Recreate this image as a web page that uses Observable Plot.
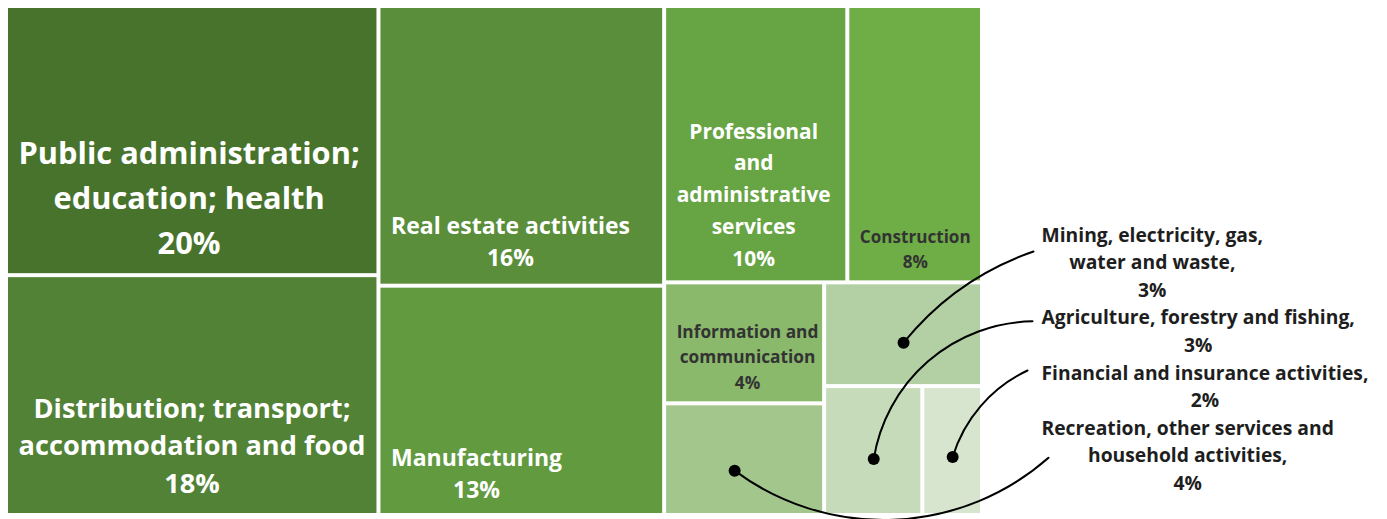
<!DOCTYPE html>
<html>
<head>
<meta charset="utf-8">
<script src="https://cdn.jsdelivr.net/npm/d3@7"></script>
<script src="https://cdn.jsdelivr.net/npm/@observablehq/plot@0.6"></script>
<style>
  html, body { margin: 0; padding: 0; background: #ffffff; }
  #chart svg { display: block; }
</style>
</head>
<body>
<div id="chart"></div>
<script>
// ---------------- DATA ----------------
const sectors = [
  "Public administration; education; health",
  "Distribution; transport; accommodation and food",
  "Real estate activities",
  "Manufacturing",
  "Professional and administrative services",
  "Construction",
  "Information and communication",
  "Recreation, other services and household activities",
  "Mining, electricity, gas, water and waste",
  "Agriculture, forestry and fishing",
  "Financial and insurance activities"
];
// share of total (%), read from the tile areas
const shares = [20.2, 18.0, 16.1, 13.2, 10.2, 7.5, 3.9, 3.6, 3.3, 2.55, 1.55];
const percentLabels = ["20%", "18%", "16%", "13%", "10%", "8%", "4%", "4%", "3%", "3%", "2%"];
// labels drawn inside tiles (wrapped as in the original)
const tileLabelSectors = sectors.slice(0, 7);
const tileLabelText = [
  "Public administration;\neducation; health",
  "Distribution; transport;\naccommodation and food",
  "Real estate activities",
  "Manufacturing",
  "Professional\nand\nadministrative\nservices",
  "Construction",
  "Information and\ncommunication"
];
// labels drawn outside with leader lines
const calloutSectors = [sectors[8], sectors[9], sectors[10], sectors[7]];
const calloutText = [
  "Mining, electricity, gas,\nwater and waste,",
  "Agriculture, forestry and fishing,",
  "Financial and insurance activities,",
  "Recreation, other services and\nhousehold activities,"
];

// ---------------- STYLE / LAYOUT ----------------
const W = 1387, H = 519;
const TM_W = 972, TM_H = 505;          // treemap extent (scale units, 1 unit = 1 px)
const palette = ["#48732c", "#528235", "#5a8e3a", "#619a3f", "#67a443", "#6fad47",
                 "#8ab96c", "#a2c68b", "#b3cfa4", "#c5dbb9", "#d7e5cf"];
const FONT = "'Open Sans'";
const tileStyle = {
  [sectors[0]]: {fs: 30.8, lh: 45, fill: "#ffffff", bottom: 20},
  [sectors[1]]: {fs: 27.2, lh: 37.5, fill: "#ffffff", bottom: 21},
  [sectors[2]]: {fs: 23, lh: 32, fill: "#ffffff", bottom: 18},
  [sectors[3]]: {fs: 23, lh: 32, fill: "#ffffff", bottom: 16},
  [sectors[4]]: {fs: 20.9, lh: 31.8, fill: "#ffffff", bottom: 15},
  [sectors[5]]: {fs: 17.1, lh: 25, fill: "#333333", bottom: 13},
  [sectors[6]]: {fs: 17.3, lh: 25.5, fill: "#333333", bottom: 13}
};
const TILE_PAD = 10;
const CALLOUT = {left: TM_W + 61, firstBaseline: 233, step: 27.6, fs: 19.3, fill: "#1e1e1e"};
const leaderEnd = [[-8, 10], [-9, -3], [-14, -9], [7, 23]];
const leaderBend = [16, 40, 24, -39];
const dotShift = [[0, 8], [0, 8], [0, 6], [-10, 11]];

// ---------------- LAYOUT ----------------
const shareOf = new Map(sectors.map((s, i) => [s, shares[i]]));
const pctOf = new Map(sectors.map((s, i) => [s, percentLabels[i]]));

const root = d3.hierarchy({children: sectors.map(s => ({name: s, value: shareOf.get(s)}))})
  .sum(d => d.value || 0)
  .sort((a, b) => b.value - a.value);
d3.treemap().tile(d3.treemapSquarify.ratio(1.2)).size([TM_W, TM_H]).paddingInner(4)(root);
const cells = root.leaves().map(d => ({
  name: d.data.name, value: d.value,
  x0: d.x0, x1: d.x1, y0: d.y0, y1: d.y1,
  cx: (d.x0 + d.x1) / 2, cy: (d.y0 + d.y1) / 2
}));
const cellOf = new Map(cells.map(c => [c.name, c]));

const ctx = document.createElement("canvas").getContext("2d");
function blockWidth(lines, fs) {
  ctx.font = `bold ${fs}px ${FONT}`;
  return d3.max(lines, l => ctx.measureText(l).width);
}

// tile labels
const tileMarks = tileLabelSectors.map((s, i) => {
  const c = cellOf.get(s), st = tileStyle[s];
  const text = tileLabelText[i] + "\n" + pctOf.get(s);
  const w = blockWidth(text.split("\n"), st.fs);
  const datum = {x: c.x0 + TILE_PAD + w / 2, y: c.y1, text};
  return Plot.text([datum], {
    x: "x", y: "y", text: "text",
    fontSize: st.fs, lineHeight: st.lh / st.fs, lineAnchor: "bottom",
    dy: -st.bottom, textAnchor: "middle", fill: st.fill, fontWeight: "bold"
  });
});

// callouts
let lineCursor = 0;
const callouts = calloutSectors.map((s, i) => {
  const c = cellOf.get(s);
  const text = calloutText[i] + "\n" + pctOf.get(s);
  const lines = text.split("\n");
  const first = CALLOUT.firstBaseline + lineCursor * CALLOUT.step;
  lineCursor += lines.length;
  const w = blockWidth(lines, CALLOUT.fs);
  return {
    name: s, text,
    tx: CALLOUT.left + w / 2,
    ty: first + (lines.length - 1) * CALLOUT.step,
    dotX: c.cx + dotShift[i][0], dotY: c.cy + dotShift[i][1],
    endX: CALLOUT.left + leaderEnd[i][0], endY: first + leaderEnd[i][1],
    bend: leaderBend[i]
  };
});

const calloutMarks = [
  ...callouts.map(d => Plot.arrow([d], {
    x1: "dotX", y1: "dotY", x2: "endX", y2: "endY",
    bend: d.bend, headLength: 0, stroke: "#000000", strokeWidth: 2
  })),
  Plot.dot(callouts, {x: "dotX", y: "dotY", r: 6, fill: "#000000", stroke: null}),
  Plot.text(callouts, {
    x: "tx", y: "ty", text: "text", fontSize: CALLOUT.fs,
    lineHeight: CALLOUT.step / CALLOUT.fs, lineAnchor: "bottom",
    textAnchor: "middle", fill: CALLOUT.fill, fontWeight: "bold"
  })
];

const chart = Plot.plot({
  width: W, height: H,
  marginTop: 0, marginRight: 0, marginBottom: 0, marginLeft: 0,
  style: {fontFamily: FONT, background: "#ffffff"},
  x: {domain: [-8, W - 8], range: [0, W], axis: null},
  y: {domain: [-8, H - 8], range: [0, H], axis: null},
  color: {domain: sectors, range: palette},
  marks: [
    Plot.rect(cells, {x1: "x0", x2: "x1", y1: "y0", y2: "y1", fill: "name"}),
    ...tileMarks,
    ...calloutMarks
  ]
});
document.getElementById("chart").appendChild(chart);
</script>
</body>
</html>
